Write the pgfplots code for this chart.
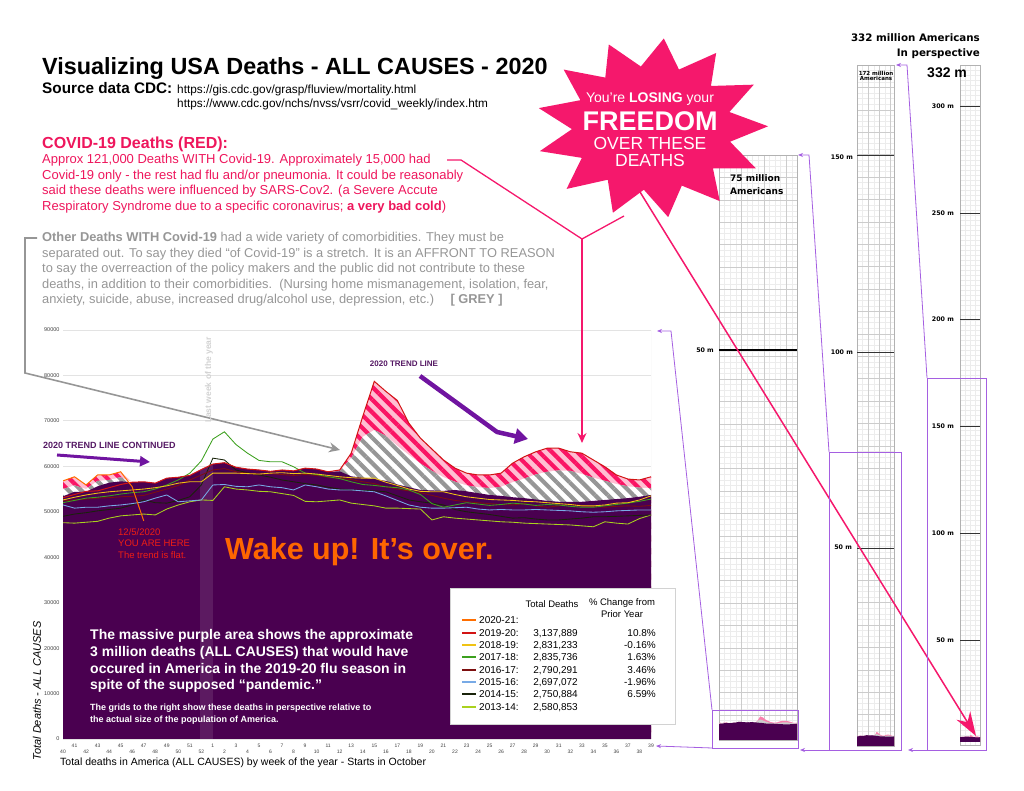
\documentclass[border=0pt]{standalone}
\usepackage{pgfplots}
\pgfplotsset{compat=1.18}
\usepackage{pgfplotstable}
\usetikzlibrary{patterns.meta,arrows.meta,shapes.geometric}
\usepackage{fontspec}
\setmainfont{Liberation Sans}
\newfontfamily\dvs{DejaVu Sans}
\newcommand{\fsz}[1]{\fontsize{#1}{#1}\selectfont}

\definecolor{purp}{RGB}{74,0,80}
\definecolor{starpink}{RGB}{245,24,108}
\definecolor{covred}{RGB}{238,22,92}
\definecolor{greytxt}{RGB}{150,150,150}
\definecolor{wakeor}{RGB}{255,102,0}
\definecolor{trendp}{RGB}{112,20,160}
\definecolor{trendtxt}{RGB}{85,25,100}
\definecolor{conn}{RGB}{165,95,225}
\definecolor{hgrey}{RGB}{150,150,150}
\definecolor{hpink}{RGB}{250,20,100}
\definecolor{pinkbg}{RGB}{255,190,210}
\definecolor{c20}{RGB}{255,110,0}
\definecolor{c19}{RGB}{210,20,20}
\definecolor{c18}{RGB}{240,195,20}
\definecolor{c17}{RGB}{60,160,30}
\definecolor{c16}{RGB}{125,15,15}
\definecolor{c15}{RGB}{120,170,230}
\definecolor{c14}{RGB}{25,35,10}
\definecolor{c13}{RGB}{170,210,30}
\definecolor{youred}{RGB}{240,30,20}

\pgfplotstableread{
i B T H R Y18 G17 M16 B15 K14 L13
0 53400 56800 55000 53100 52600 52000 52400 51500 49000 47600
1 54400 57700 55800 53800 53200 52500 52600 50800 49500 47500
2 54400 55900 55000 54500 53700 53000 52800 51000 49800 47700
3 55600 58100 56800 54600 54100 53200 53000 51000 50200 47900
4 56400 58100 57000 55300 54400 53500 53100 51300 50500 48600
5 56700 58800 57600 56000 54600 53900 53300 51500 50800 49100
6 56500 56500 56500 56500 54800 54200 53400 51800 51500 49300
7 56600 56600 56600 56600 55000 54400 53600 52200 52600 49500
8 56300 56300 56300 56300 55300 55000 54300 53000 52000 49300
9 57400 57400 57400 57400 55700 55900 55000 53700 51900 50600
10 57600 57600 57600 57600 56300 57000 55800 52200 52500 51500
11 58000 58000 58000 58000 56600 58500 57000 52400 53300 52200
12 59300 59300 59300 59300 56600 61200 58100 52600 55900 52600
13 60500 60500 60500 60500 58500 66000 59200 55900 61800 52500
14 60800 60800 60800 60800 58500 67600 59500 56000 61400 55500
15 59800 59800 59800 59800 58500 64800 58800 55600 59200 55000
16 59400 59400 59400 59400 58400 62900 58500 55500 58600 54800
17 59200 59200 59200 59200 58300 61300 58300 55900 58100 54500
18 58900 58900 58900 58900 58500 61000 58400 55500 57600 54400
19 59200 59200 59200 59200 58600 61000 58200 55300 57000 54000
20 59000 59000 59000 59000 58400 59900 58000 54800 56600 53600
21 59600 59600 59600 59600 58500 58500 58200 55900 56200 52300
22 59400 59400 59400 59400 58300 58200 58000 55500 55900 52200
23 58800 58800 58800 58800 58000 57700 57600 55000 55400 52400
24 58900 59200 59000 59200 57700 57300 57400 54800 55000 52600
25 57800 62900 61800 62900 57500 56600 57100 54800 54800 51900
26 57500 71000 66500 71000 57400 56000 56600 54600 54700 51600
27 57200 78700 68000 78700 57400 55800 56200 54400 54600 51300
28 56800 76500 66700 76500 56500 55500 55500 53500 54400 50800
29 56000 74500 64500 74500 55800 55300 55000 52500 53500 50800
30 55400 69500 62500 69500 55000 54800 54600 51500 52600 50700
31 54800 66200 60600 66200 54500 53800 54200 51000 52200 50600
32 54700 63800 59000 63800 54400 51800 53600 50800 51900 48200
33 54600 61400 57600 61400 54400 51000 53000 50800 51500 48900
34 54800 59600 56600 59600 53800 51500 52500 50900 50500 48600
35 54500 58500 55800 58500 53300 52000 52200 51000 50000 48400
36 54100 58100 55400 58100 53000 51700 52000 50600 49700 48200
37 53700 58100 55200 58100 52700 51400 51800 50400 49400 48000
38 53500 58500 55500 58500 52600 51600 51600 50500 49000 47800
39 53200 60700 56500 60700 52500 51900 51500 50400 48600 47700
40 53000 62100 57300 62100 52300 51700 51800 50400 48700 47500
41 52700 63200 58200 63200 52200 51400 51300 50500 48400 47400
42 52400 64000 58800 64000 52000 51600 51000 50400 48200 47300
43 52200 64000 59100 64000 51800 51500 51300 50300 48200 47200
44 52200 63200 59000 63200 51600 51200 51600 50200 48400 47100
45 52200 62900 58300 62900 51300 51000 51400 50000 48600 46900
46 52400 61400 57500 61400 51300 51000 51200 49900 48900 46700
47 52600 59900 56800 59900 51500 51300 51000 50000 48900 47800
48 52800 58100 56100 58100 51900 51600 51200 50200 49000 47500
49 53000 57200 55600 57200 52000 51900 51300 50300 49100 47300
50 53300 57000 55300 57000 52600 52300 51200 50400 49200 48500
51 53700 57700 55200 57700 53500 52800 51400 50400 49300 49300
}\data

\begin{document}
\begin{tikzpicture}[x=1pt,y=1pt]
% ---------- panel grids (flipped coordinates: y from top) ----------
\begin{scope}[yscale=-1, shift={(0,-791)}, every node/.style={inner sep=0pt}]
  % panel 1
  \draw[gray!15, line width=0.25pt, shift={(719,155)}] (0,0) grid[step=5.6] (78,585);
  \draw[gray!40, line width=0.4pt, shift={(719,155)}] (0,0) grid[step=22.4] (78,585);
  \draw[gray!60, line width=0.6pt] (719,155) rectangle (797,740);
  \draw[black, line width=1.3pt] (719,350) -- (797,350);
  % panel 2
  \draw[gray!15, line width=0.25pt, shift={(857,65)}] (0,0) grid[step=5.6] (37,681);
  \draw[gray!40, line width=0.4pt, shift={(857,65)}] (0,0) grid[xstep=11.2,ystep=22.4] (37,681);
  \draw[gray!60, line width=0.6pt] (857,65) rectangle (894,746);
  \foreach \yy in {155,352,548} \draw[black!80, line width=0.9pt] (857,\yy) -- (894,\yy);
  % panel 3
  \draw[gray!15, line width=0.25pt, shift={(960,65)}] (0,0) grid[step=5] (20,680);
  \draw[gray!60, line width=0.6pt] (960,65) rectangle (980,745);
  \foreach \yy in {106,213,319,426,533,640} \draw[black!80, line width=0.8pt] (960,\yy) -- (980,\yy);
\end{scope}

% ---------- main chart ----------
\begin{axis}[
  at={(63pt,52pt)}, anchor=south west, scale only axis,
  width=588pt, height=409pt,
  xmin=0, xmax=51, ymin=0, ymax=90000,
  axis line style={draw=none}, tick style={draw=none},
  ytick={0,10000,...,90000},
  ymajorgrids, grid style={gray!22, line width=0.8pt},
  scaled y ticks=false,
  /pgf/number format/assume math mode=true,
  y tick label style={font=\fsz{5.5}, text=black!75, /pgf/number format/1000 sep={}, /pgf/number format/fixed},
  xtick={1,3,...,51},
  xticklabels={41,43,45,47,49,51,1,3,5,7,9,11,13,15,17,19,21,23,25,27,29,31,33,35,37,39},
  extra x ticks={0,2,...,50},
  extra x tick labels={40,42,44,46,48,50,52,2,4,6,8,10,12,14,16,18,20,22,24,26,28,30,32,34,36,38},
  extra x tick style={xticklabel style={yshift=-6.5pt}},
  xticklabel style={font=\fsz{5}, text=black!75, inner sep=1pt, yshift=-3.5pt},
]
\addplot[fill=pinkbg, draw=none] table[x=i,y=T]{\data} \closedcycle;
\addplot[draw=none, pattern={Lines[angle=-45,distance=9pt,line width=4.2pt]}, pattern color=hpink] table[x=i,y=T]{\data} \closedcycle;
\addplot[fill=white, draw=none] table[x=i,y=H]{\data} \closedcycle;
\addplot[draw=none, pattern={Lines[angle=-45,distance=9pt,line width=4.2pt]}, pattern color=hgrey] table[x=i,y=H]{\data} \closedcycle;
\addplot[fill=purp, draw=none] table[x=i,y=B]{\data} \closedcycle;
\fill[white, opacity=0.1] (axis cs:11.9,0) rectangle (axis cs:13.0,60500);
\draw[gray!25, line width=0.8pt] (axis cs:51,0) -- (axis cs:51,90000);
\addplot[c13, line width=0.85pt] table[x=i,y=L13]{\data};
\addplot[c14, line width=0.85pt] table[x=i,y=K14]{\data};
\addplot[c15, line width=0.85pt] table[x=i,y=B15]{\data};
\addplot[c16, line width=0.85pt] table[x=i,y=M16]{\data};
\addplot[c17, line width=0.85pt] table[x=i,y=G17]{\data};
\addplot[c18, line width=0.85pt] table[x=i,y=Y18]{\data};
\addplot[c19, line width=1pt] table[x=i,y=R]{\data};
\addplot[c20, line width=1pt] coordinates {(0,56800)(1,57700)(2,55900)(3,58100)(4,58100)(5,58800)(6,55500)(7,48000)};
\end{axis}

% ---------- mini charts in the population grids ----------
\begin{axis}[at={(719pt,51pt)}, anchor=south west, scale only axis, width=78pt, height=27pt,
  xmin=0, xmax=51, ymin=0, ymax=90000, hide axis]
\addplot[fill=starpink!55, draw=none] table[x=i,y=T]{\data} \closedcycle;
\addplot[fill=gray!40, draw=none] table[x=i,y=H]{\data} \closedcycle;
\addplot[fill=purp, draw=none] table[x=i,y=B]{\data} \closedcycle;
\end{axis}
\begin{axis}[at={(857pt,45pt)}, anchor=south west, scale only axis, width=37pt, height=16pt,
  xmin=0, xmax=51, ymin=0, ymax=90000, hide axis]
\addplot[fill=starpink!55, draw=none] table[x=i,y=T]{\data} \closedcycle;
\addplot[fill=gray!40, draw=none] table[x=i,y=H]{\data} \closedcycle;
\addplot[fill=purp, draw=none] table[x=i,y=B]{\data} \closedcycle;
\end{axis}
\begin{axis}[at={(960pt,49pt)}, anchor=south west, scale only axis, width=20pt, height=8pt,
  xmin=0, xmax=51, ymin=0, ymax=90000, hide axis]
\addplot[fill=starpink!55, draw=none] table[x=i,y=T]{\data} \closedcycle;
\addplot[fill=purp, draw=none] table[x=i,y=B]{\data} \closedcycle;
\end{axis}

% ---------- annotations ----------
\begin{scope}[yscale=-1, shift={(0,-791)}, every node/.style={inner sep=0pt}]
  % star
  \begin{scope}[shift={(652,128)}, xscale=1.29]
    \node[star, star points=13, star point ratio=1.45, minimum size=180pt, fill=starpink, draw=none, transform shape, rotate=-8] at (0,0) {};
  \end{scope}
  \node[text=white, font=\fsz{14}] at (650,99) {You’re \textbf{LOSING} your};
  \node[text=white, font=\bfseries\fsz{27}] at (650,121) {FREEDOM};
  \node[text=white, font=\fsz{17.5}] at (650,143) {OVER THESE};
  \node[text=white, font=\fsz{17.5}] at (650,160) {DEATHS};

  % titles
  \node[anchor=base west, font=\bfseries\fsz{23.4}] at (42,75) {Visualizing USA Deaths - ALL CAUSES - 2020};
  \node[anchor=base west, font=\bfseries\fsz{15.3}] at (42,94) {Source data CDC:};
  \node[anchor=base west, font=\fsz{11.8}] at (177,94) {https://gis.cdc.gov/grasp/fluview/mortality.html};
  \node[anchor=base west, font=\fsz{11.8}] at (177,108) {https://www.cdc.gov/nchs/nvss/vsrr/covid\_weekly/index.htm};

  % red paragraph
  \begin{scope}[every node/.append style={anchor=base west, text=covred, font=\fsz{13}}]
    \node[font=\bfseries\fsz{16}] at (42,149) {COVID-19 Deaths (RED):};
    \node at (42,164) {Approx 121,000 Deaths WITH Covid-19. Approximately 15,000 had};
    \node at (42,179.5) {Covid-19 only - the rest had flu and/or pneumonia. It could be reasonably};
    \node at (42,195) {said these deaths were influenced by SARS-Cov2. (a Severe Accute};
    \node at (42,210.5) {Respiratory Syndrome due to a specific coronavirus; \textbf{a very bad cold})};
  \end{scope}
  % grey paragraph
  \begin{scope}[every node/.append style={anchor=base west, text=greytxt, font=\fsz{12.85}}]
    \node at (42,242) {\textbf{Other Deaths WITH Covid-19} had a wide variety of comorbidities. They must be};
    \node at (42,257.5) {separated out. To say they died “of Covid-19” is a stretch. It is an AFFRONT TO REASON};
    \node at (42,273) {to say the overreaction of the policy makers and the public did not contribute to these};
    \node at (42,288.5) {deaths, in addition to their comorbidities.\ \ (Nursing home mismanagement, isolation, fear,};
    \node at (42,304) {anxiety, suicide, abuse, increased drug/alcohol use, depression, etc.)\quad\ \textbf{[ GREY ]}};
  \end{scope}

  % connectors from paragraphs
  \draw[hgrey, line width=1.6pt, -{Stealth[length=11pt,width=10pt]}] (37,238) -- (25,238) -- (25,373) -- (340,450);
  \draw[starpink, line width=1.3pt] (447,160) -- (461,160) -- (582,239);
  \draw[starpink, line width=1.3pt] (624,216) -- (582,239);
  \draw[starpink, line width=1.3pt, -{Stealth[length=10pt,width=9pt]}] (582,239) -- (582,443);
  \draw[starpink, line width=1.5pt, -{Stealth[length=24pt,width=16pt]}] (640,192) -- (976,736);

  % chart annotations
  \node[rotate=90, font=\bfseries\fsz{8.5}, text=gray!35] at (209,380) {Last week of the year};
  \node[font=\bfseries\fsz{8}, text=trendtxt] at (404,364) {2020 TREND LINE};
  \draw[trendp, line width=4.5pt, -{Triangle[length=13pt,width=15pt]}] (420,376) -- (497,432) -- (528,439);
  \node[anchor=west, font=\bfseries\fsz{9}, text=trendtxt] at (43,445) {2020 TREND LINE CONTINUED};
  \draw[trendp, line width=3pt, -{Triangle[length=10pt,width=10pt]}] (57,455) -- (150,462);
  \node[anchor=base west, font=\fsz{9.5}, text=youred] at (118,535.5) {12/5/2020};
  \node[anchor=base west, font=\fsz{9.5}, text=youred] at (118,547) {YOU ARE HERE};
  \node[anchor=base west, font=\fsz{9.5}, text=youred] at (118,558.5) {The trend is flat.};
  \node[anchor=base west, font=\bfseries\fsz{30.5}, text=wakeor] at (225,559.5) {Wake up! It’s over.};

  \begin{scope}[every node/.append style={anchor=base west, text=white, font=\bfseries\fsz{14}}]
    \node at (90,640) {The massive purple area shows the approximate};
    \node at (90,657) {3 million deaths (ALL CAUSES) that would have};
    \node at (90,674) {occured in America in the 2019-20 flu season in};
    \node at (90,690) {spite of the supposed “pandemic.”};
    \node[font=\bfseries\fsz{9}] at (90,711) {The grids to the right show these deaths in perspective relative to};
    \node[font=\bfseries\fsz{9}] at (90,723) {the actual size of the population of America.};
  \end{scope}

  % axis titles
  \node[rotate=90, font=\itshape\fsz{11}] at (37,691) {Total Deaths - ALL CAUSES};
  \node[anchor=base west, font=\fsz{10.5}] at (60,766) {Total deaths in America (ALL CAUSES) by week of the year - Starts in October};

  % legend table
  \fill[white] (450,588) rectangle (675,724);
  \draw[gray!35, line width=0.6pt] (450,588) rectangle (675,724);
  \node[font=\fsz{9.5}] at (552,604) {Total Deaths};
  \node[font=\fsz{9.5}] at (622,603) {\% Change from};
  \node[font=\fsz{9.5}] at (622,614) {Prior Year};
  \begin{scope}[every node/.append style={font=\fsz{10}}]
    \draw[c20, line width=1.6pt] (462,620) -- (476,620); \node[anchor=base west] at (479,623.5) {2020-21:};
    \draw[c19, line width=1.6pt] (462,633) -- (476,633); \node[anchor=base west] at (479,636.5) {2019-20:};
    \node[anchor=base east] at (578,636.5) {3,137,889}; \node[anchor=base east] at (656,636.5) {10.8\%};
    \draw[c18, line width=1.6pt] (462,645) -- (476,645); \node[anchor=base west] at (479,648.5) {2018-19:};
    \node[anchor=base east] at (578,648.5) {2,831,233}; \node[anchor=base east] at (656,648.5) {-0.16\%};
    \draw[c17, line width=1.6pt] (462,657) -- (476,657); \node[anchor=base west] at (479,660.5) {2017-18:};
    \node[anchor=base east] at (578,660.5) {2,835,736}; \node[anchor=base east] at (656,660.5) {1.63\%};
    \draw[c16, line width=1.6pt] (462,670) -- (476,670); \node[anchor=base west] at (479,673.5) {2016-17:};
    \node[anchor=base east] at (578,673.5) {2,790,291}; \node[anchor=base east] at (656,673.5) {3.46\%};
    \draw[c15, line width=1.6pt] (462,682) -- (476,682); \node[anchor=base west] at (479,685.5) {2015-16:};
    \node[anchor=base east] at (578,685.5) {2,697,072}; \node[anchor=base east] at (656,685.5) {-1.96\%};
    \draw[c14, line width=1.6pt] (462,694) -- (476,694); \node[anchor=base west] at (479,697.5) {2014-15:};
    \node[anchor=base east] at (578,697.5) {2,750,884}; \node[anchor=base east] at (656,697.5) {6.59\%};
    \draw[c13, line width=1.6pt] (462,707) -- (476,707); \node[anchor=base west] at (479,710.5) {2013-14:};
    \node[anchor=base east] at (578,710.5) {2,580,853};
  \end{scope}

  % population panel labels
  \node[anchor=base east, font=\dvs\bfseries\fsz{10.3}] at (980,42) {332 million Americans};
  \node[anchor=base east, font=\dvs\bfseries\fsz{10.3}] at (980,57) {In perspective};
  \node[anchor=base west, font=\bfseries\fsz{14}] at (927,78) {332 m};
  \foreach \yy/\lab in {106/300,213/250,319/200,426/150,533/100,640/50}
    \node[anchor=east, font=\dvs\bfseries\fsz{6.3}] at (954,\yy) {\lab\ m};
  \node[font=\dvs\bfseries\fsz{5.5}, align=center] at (876,76) {172 million\\[-1pt]Americans};
  \node[anchor=east, font=\dvs\bfseries\fsz{6.3}] at (853,157) {150 m};
  \node[anchor=east, font=\dvs\bfseries\fsz{6.3}] at (853,352) {100 m};
  \node[anchor=east, font=\dvs\bfseries\fsz{6.3}] at (852,547) {50 m};
  \node[anchor=base west, font=\dvs\bfseries\fsz{9}] at (730,182) {75 million};
  \node[anchor=base west, font=\dvs\bfseries\fsz{9}] at (730,195) {Americans};
  \node[anchor=east, font=\dvs\bfseries\fsz{6.3}] at (714,350) {50 m};

  % highlight boxes and connectors
  \draw[conn, line width=0.8pt] (712,710) rectangle (798,748);
  \draw[conn, line width=0.8pt] (829,452) rectangle (901,750);
  \draw[conn, line width=0.8pt] (927,378) rectangle (986,750);
  \draw[conn, line width=0.8pt, -{Stealth[length=5pt,width=4pt]}] (712,710) -- (671,331) -- (657,331);
  \draw[conn, line width=0.8pt, -{Stealth[length=5pt,width=4pt]}] (712,748) -- (656,746);
  \draw[conn, line width=0.8pt, -{Stealth[length=5pt,width=4pt]}] (829,452) -- (809,155) -- (798,155);
  \draw[conn, line width=0.8pt, -{Stealth[length=5pt,width=4pt]}] (829,750) -- (800,750);
  \draw[conn, line width=0.8pt, -{Stealth[length=5pt,width=4pt]}] (927,378) -- (907,65) -- (896,65);
  \draw[conn, line width=0.8pt, -{Stealth[length=5pt,width=4pt]}] (927,750) -- (908,750);
\end{scope}
\pgfresetboundingbox
\path[use as bounding box] (0,0) rectangle (1024,791);
\end{tikzpicture}
\end{document}
